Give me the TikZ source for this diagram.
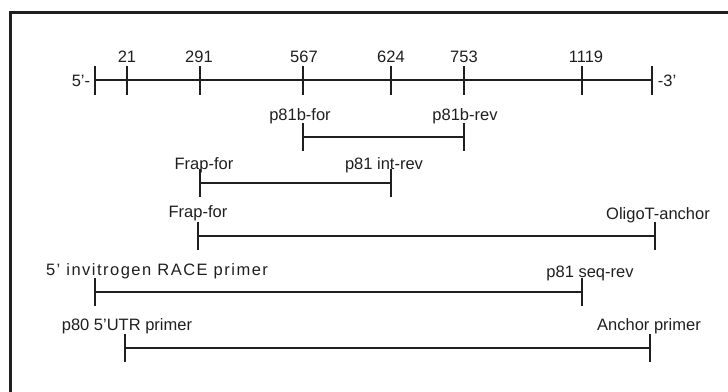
\documentclass[tikz,border=0pt]{standalone}
\usepackage{fontspec}
\setmainfont{Liberation Sans}
\begin{document}
\begin{tikzpicture}[x=1pt,y=-1pt,line width=1.7pt,color={black!88},
  lab/.style={font=\fontsize{16.5}{18}\selectfont, inner sep=0pt, anchor=base},
  tk/.style={line width=1.7pt}]
\useasboundingbox (0,0) rectangle (728,391);
% frame
\coordinate (fb) at (10.5,400);
\coordinate (fc) at (10.5,12.5);
\coordinate (fr) at (740,12.5);
\draw[line width=3.8pt] (fb) -- (fc) -- (fr);
% main axis
\foreach \n/\x in {L/95,a/127,b/200,c/303,d/391,e/464,f/582,R/652}{
  \coordinate (m\n) at (\x,80);
  \coordinate (m\n t) at (\x,66);
  \coordinate (m\n b) at (\x,95);
}
\draw (mL) -- (mR);
\foreach \n in {L,a,b,c,d,e,f,R}{\draw[tk] (m\n t) -- (m\n b);}
\node[lab] (n21) at (127,62) {21};
\node[lab] (n291) at (199,62) {291};
\node[lab] (n567) at (304,62) {567};
\node[lab] (n624) at (391,62) {624};
\node[lab] (n753) at (464,62) {753};
\node[lab] (n1119) at (586,62) {1119};
\node[lab,anchor=base east] (n5) at (91,86.5) {5'-};
\node[lab,anchor=base west] (n3) at (657,86.5) {-3'};
% primer lines
\foreach \n/\xa/\xb/\y in {p/303/464/137, q/200/391/183, r/198/655/236, s/95/582/292, u/125/650/348}{
  \coordinate (\n1) at (\xa,\y);
  \coordinate (\n2) at (\xb,\y);
  \coordinate (\n1t) at (\xa,\y-14);
  \coordinate (\n1b) at (\xa,\y+14);
  \coordinate (\n2t) at (\xb,\y-14);
  \coordinate (\n2b) at (\xb,\y+14);
  \draw (\n1) -- (\n2);
  \draw[tk] (\n1t) -- (\n1b);
  \draw[tk] (\n2t) -- (\n2b);
}
\node[lab] (l1a) at (300,120) {p81b-for};
\node[lab] (l1b) at (465,120) {p81b-rev};
\node[lab] (l2a) at (204,169) {Frap-for};
\node[lab] (l2b) at (384,169) {p81 int-rev};
\node[lab] (l3a) at (198,217) {Frap-for};
\node[lab] (l3b) at (658,219) {OligoT-anchor};
\node[lab] (l4a) at (157,275) {\addfontfeature{LetterSpace=9}5’ invitrogen RACE primer};
\node[lab] (l4b) at (590,277) {p81 seq-rev};
\node[lab] (l5a) at (127,330) {p80 5'UTR primer};
\node[lab] (l5b) at (649,330) {Anchor primer};
\end{tikzpicture}
\end{document}
